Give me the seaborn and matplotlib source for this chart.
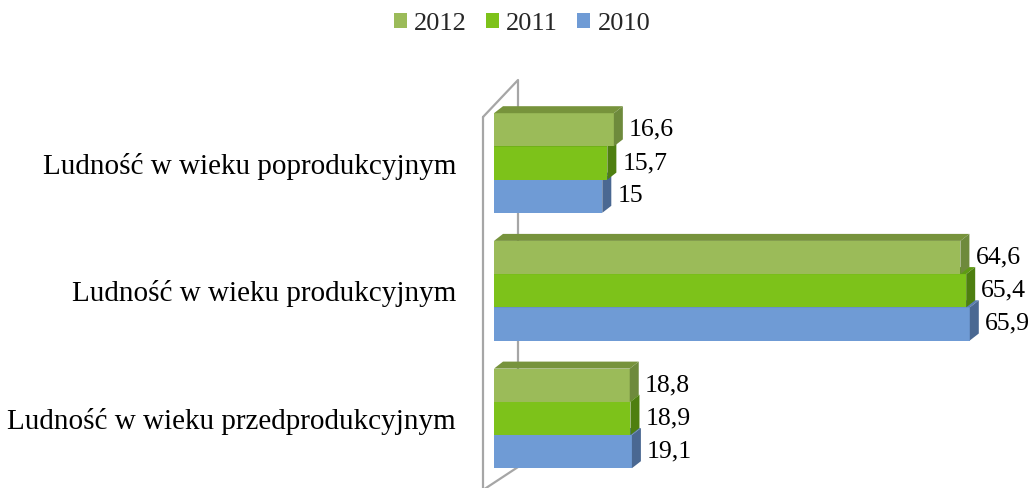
import pandas as pd
import matplotlib.pyplot as plt
from matplotlib.patches import Polygon, Patch
import seaborn as sns

# --- data ---
categories = ["Ludność w wieku poprodukcyjnym",
              "Ludność w wieku produkcyjnym",
              "Ludność w wieku przedprodukcyjnym"]
years = ["2012", "2011", "2010"]
values_2012 = [16.6, 64.6, 18.8]
values_2011 = [15.7, 65.4, 18.9]
values_2010 = [15.0, 65.9, 19.1]

front_colors = {"2012": "#9BBB59", "2011": "#7DC21A", "2010": "#6F9BD5"}
side_colors = {"2012": "#6E8A3C", "2011": "#4E7F10", "2010": "#4A6892"}
top_colors = {"2012": "#77933C", "2011": "#5E9A14", "2010": "#5A7FB0"}

df = pd.DataFrame({
    "kategoria": categories * 3,
    "rok": [y for y in years for _ in categories],
    "wartosc": values_2012 + values_2011 + values_2010,
})

sns.set_theme(style="white")
plt.rcParams["font.family"] = ["Liberation Serif", "DejaVu Serif"]

W, H = 1032, 488
fig = plt.figure(figsize=(W / 100, H / 100), dpi=100)

# pixel geometry of the plot area
AX_L, AX_R, AX_T, AX_B = 483, 1032, 78, 488
X0_PX, X_SCALE = 494, 7.22     # px where value 0 sits, px per unit
Y0_PX, Y_SCALE = 163, 127.7    # px of first category centre, px per category

ax = fig.add_axes([AX_L / W, 1 - AX_B / H, (AX_R - AX_L) / W, (AX_B - AX_T) / H])
ax.patch.set_alpha(0)

sns.barplot(data=df, y="kategoria", x="wartosc", hue="rok", order=categories,
            hue_order=years, palette=front_colors, width=0.78, saturation=1,
            orient="h", legend=False, ax=ax, linewidth=0)

ax.set_xlim((AX_L - X0_PX) / X_SCALE, (AX_R - X0_PX) / X_SCALE)
ax.set_ylim((AX_B - Y0_PX) / Y_SCALE, (AX_T - Y0_PX) / Y_SCALE)


def px(x, y):
    return (x - X0_PX) / X_SCALE, (y - Y0_PX) / Y_SCALE


# 3D depth of bars
DX = 9 / X_SCALE
DY = -7 / Y_SCALE

# wall outline on the left
wall = [(483, 117), (518, 80), (518, 467), (483, 490), (483, 117)]
wx, wy = zip(*[px(*p) for p in wall])
ax.plot(wx, wy, color="#A6A6A6", lw=1.6, zorder=1, clip_on=False)

zorders = {"2012": 5, "2011": 4, "2010": 3}
for year, container in zip(years, ax.containers):
    z = zorders[year]
    for bar in container:
        x0 = bar.get_x()
        x1 = x0 + bar.get_width()
        yt = bar.get_y()
        yb = yt + bar.get_height()
        bar.set_zorder(z)
        ax.add_patch(Polygon([(x0, yt), (x1, yt), (x1 + DX, yt + DY), (x0 + DX, yt + DY)],
                             closed=True, fc=top_colors[year], ec="none", zorder=z))
        ax.add_patch(Polygon([(x1, yt), (x1, yb), (x1 + DX, yb + DY), (x1 + DX, yt + DY)],
                             closed=True, fc=side_colors[year], ec="none", zorder=z))
        val = bar.get_width()
        ax.text(x1 + DX + 6 / X_SCALE, (yt + yb) / 2, f"{val:g}".replace(".", ","),
                ha="left", va="center", fontsize=18.5, color="black", zorder=10)

ax.set_xlabel("")
ax.set_ylabel("")
ax.set_xticks([])
ax.tick_params(axis="y", length=0, pad=27 * 0.72, labelsize=21, labelcolor="black")
for s in ax.spines.values():
    s.set_visible(False)

handles = [Patch(facecolor=front_colors[y], edgecolor="none") for y in years]
fig.legend(handles, years, loc="center", bbox_to_anchor=(522 / W, 1 - 24 / H), ncol=3,
           frameon=False, fontsize=19, handlelength=0.5, handleheight=0.5,
           handletextpad=0.27, columnspacing=0.72)

fig.savefig("out.png", dpi=100)
